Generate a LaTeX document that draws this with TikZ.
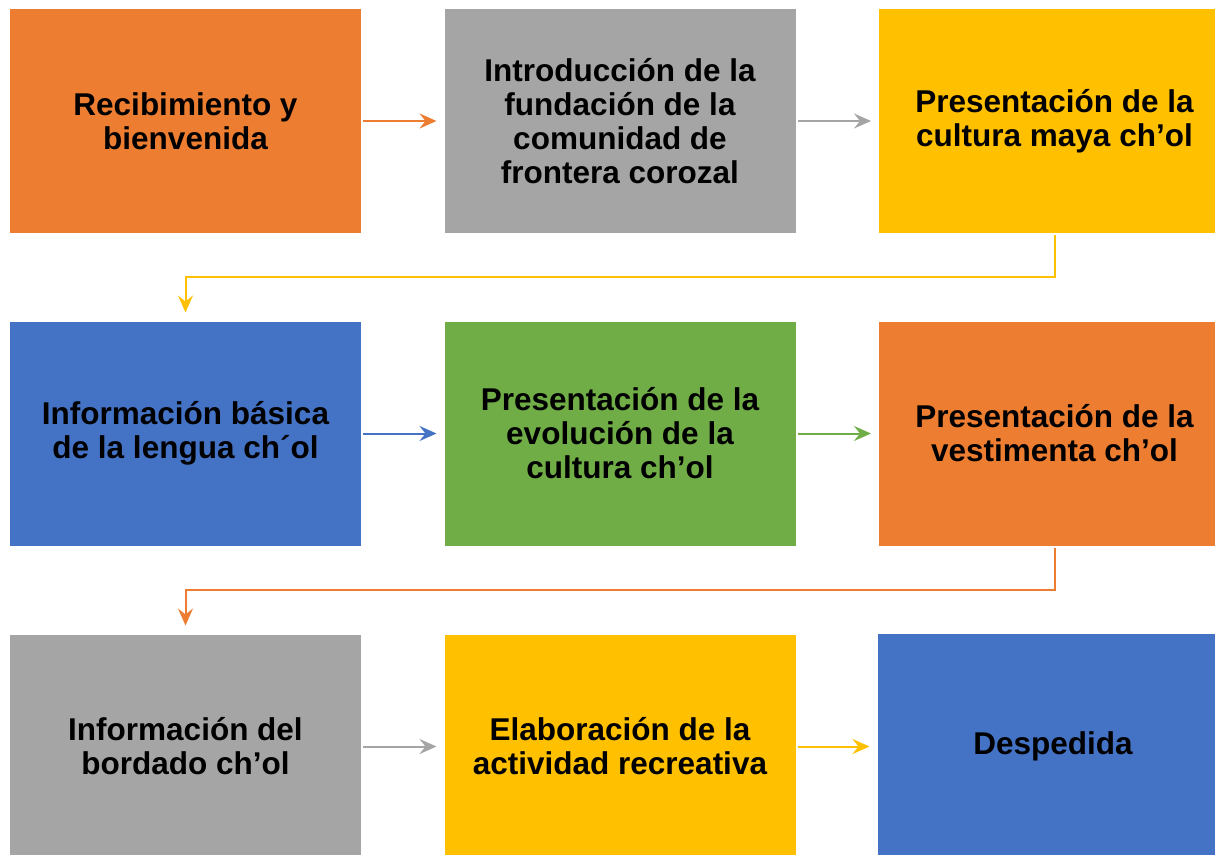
\documentclass[tikz,border=0pt]{standalone}
\usepackage{fontspec}
\setmainfont{Liberation Sans}
\usetikzlibrary{arrows.meta,calc}
\definecolor{corange}{HTML}{ED7D31}
\definecolor{cgray}{HTML}{A5A5A5}
\definecolor{cyellow}{HTML}{FFC000}
\definecolor{cblue}{HTML}{4472C4}
\definecolor{cgreen}{HTML}{70AD47}
\begin{document}
\begin{tikzpicture}[x=1pt,y=-1pt,
  box/.style={minimum width=351pt,minimum height=224pt,inner sep=0pt,outer sep=0pt,
    align=center,font=\fontsize{31.5pt}{34pt}\selectfont\bfseries},
  arr/.style={line width=2pt,-{Stealth[length=17pt,width=15pt,inset=6pt]},shorten <=2pt,shorten >=8pt}]
\useasboundingbox (0,0) rectangle (1215,854);
\fill[white] (0,0) rectangle (1215,854);
% row 1
\node[box,fill=corange] (b1) at (185.5,121) {Recibimiento y\\bienvenida};
\node[box,fill=cgray] (b2) at (620,121) {Introducción de la\\fundación de la\\comunidad de\\frontera corozal};
\node[box,fill=cyellow] (b3) at (1054.5,121) {Presentación de la\\cultura maya ch’ol};
% row 2
\node[box,fill=cblue] (b4) at (185.5,433.5) {Información básica\\de la lengua ch´ol};
\node[box,fill=cgreen] (b5) at (620,433.5) {Presentación de la\\evolución de la\\cultura ch’ol};
\node[box,fill=corange] (b6) at (1054.5,433.5) {Presentación de la\\vestimenta ch’ol};
% row 3
\node[box,fill=cgray] (b7) at (185.5,746.5) {Información del\\bordado ch’ol};
\node[box,fill=cyellow] (b8) at (620,746.5) {Elaboración de la\\actividad recreativa};
\node[box,fill=cblue] (b9) at (1053,746) {Despedida};
% connectors
\draw[arr,corange] (b1) -- (b2);
\draw[arr,cgray] (b2) -- (b3);
\draw[arr,cyellow,shorten >=9pt] (b3.south) -- ++(0,44) -| (b4.north);
\draw[arr,cblue] (b4) -- (b5);
\draw[arr,cgreen] (b5) -- (b6);
\draw[arr,corange,shorten >=9pt] (b6.south) -- ++(0,44) -| (b7.north);
\draw[arr,cgray] (b7) -- (b8);
\draw[arr,cyellow] (b8.east) -- (b8.east -| b9.west);
\end{tikzpicture}
\end{document}
